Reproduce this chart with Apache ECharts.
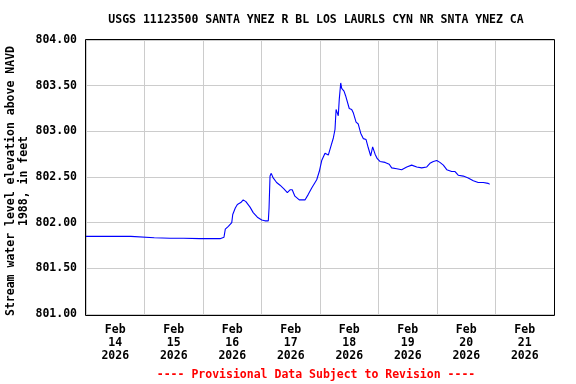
<!DOCTYPE html>
<html><head><meta charset="utf-8">
<script src="https://cdn.jsdelivr.net/npm/echarts@6/dist/echarts.min.js"></script>
<style>html,body{margin:0;padding:0;background:#fff}#c{width:576px;height:384px}</style>
</head><body><div id="c"></div>
<script>
// hours since Feb 14 2026 00:00
const hours = [0, 18.4, 18.6, 28, 34.5, 40, 46.8, 52, 55, 55.8, 56.6, 57.15, 58.4, 59.8, 60.2, 61.25, 62.1, 63.5, 64.5, 65.6, 67.3, 68.6, 70.3, 72.1, 73.4, 74.8, 75.1, 75.5, 76.0, 76.8, 78.2, 79.6, 81.2, 82.6, 83.7, 84.6, 85.7, 87.5, 89.9, 91.2, 92.6, 94.65, 95.7, 96.7, 98.05, 99.4, 99.8, 100.4, 101.5, 102.15, 102.6, 103.1, 103.5, 103.9, 104.5, 104.9, 105.85, 106.5, 107.2, 108.0, 109.0, 109.7, 110.8, 111.7, 112.7, 113.8, 114.9, 115.8, 116.8, 117.6, 118.6, 119.5, 120.6, 122.7, 124.4, 125.4, 127.5, 129.5, 131.6, 133.6, 135.7, 137.7, 139.8, 141.1, 142.5, 143.9, 145.2, 146.6, 148.0, 150.0, 151.4, 152.7, 154.8, 156.8, 158.9, 160.9, 163.0, 165.0, 165.6];
const levels = [801.85, 801.85, 801.84, 801.835, 801.83, 801.83, 801.825, 801.825, 801.825, 801.83, 801.84, 801.93, 801.96, 802.0, 802.09, 802.16, 802.2, 802.22, 802.25, 802.23, 802.17, 802.11, 802.06, 802.03, 802.02, 802.02, 802.16, 802.51, 802.54, 802.49, 802.44, 802.41, 802.37, 802.33, 802.36, 802.36, 802.29, 802.25, 802.25, 802.31, 802.38, 802.47, 802.56, 802.68, 802.76, 802.74, 802.72, 802.83, 802.93, 803.02, 803.24, 803.25, 803.17, 803.35, 803.53, 803.47, 803.44, 803.39, 803.38, 803.25, 803.24, 803.20, 803.10, 803.08, 802.98, 802.92, 802.91, 802.82, 802.73, 802.83, 802.75, 802.70, 802.67, 802.66, 802.64, 802.60, 802.59, 802.58, 802.61, 802.63, 802.61, 802.60, 802.61, 802.65, 802.67, 802.68, 802.66, 802.63, 802.58, 802.56, 802.56, 802.52, 802.51, 802.49, 802.46, 802.44, 802.44, 802.43, 802.42];
const dayLabels = ['Feb\n14\n2026','Feb\n15\n2026','Feb\n16\n2026','Feb\n17\n2026','Feb\n18\n2026','Feb\n19\n2026','Feb\n20\n2026','Feb\n21\n2026'];
const yTicks = [801, 801.5, 802, 802.5, 803, 803.5, 804];
const titleText = 'USGS 11123500 SANTA YNEZ R BL LOS LAURLS CYN NR SNTA YNEZ CA';
const yName = 'Stream water level elevation above NAVD\n1988, in feet';
const footer = '---- Provisional Data Subject to Revision ----';

const FONT = '"DejaVu Sans Mono", monospace';
const chart = echarts.init(document.getElementById('c'), null, {renderer: 'canvas'});
const data = hours.map((h, i) => [h, levels[i]]);
chart.setOption({
  animation: false,
  backgroundColor: '#fff',
  grid: {left: 86, top: 40, width: 468, height: 274, show: false},
  xAxis: [
    {type: 'value', min: 0, max: 192, interval: 24, position: 'bottom',
     axisLine: {show: false}, axisTick: {show: false}, axisLabel: {show: false},
     splitLine: {show: true, lineStyle: {color: '#cccccc', width: 1}}},
    {type: 'category', data: dayLabels, boundaryGap: true, position: 'bottom',
     axisLine: {show: false}, axisTick: {show: false}, splitLine: {show: false},
     axisLabel: {margin: 10, color: '#000', fontFamily: FONT, fontWeight: 'bold', fontSize: 11.5, lineHeight: 13, interval: 0}}
  ],
  yAxis: {type: 'value', min: yTicks[0], max: yTicks[yTicks.length - 1], interval: 0.5,
    axisLine: {show: false}, axisTick: {show: false},
    axisLabel: {margin: 9, padding: [3, 0, 0, 0], color: '#000', fontFamily: FONT, fontWeight: 'bold', fontSize: 11.5, formatter: v => v.toFixed(2)},
    splitLine: {show: true, lineStyle: {color: '#cccccc', width: 1}}},
  series: [{type: 'line', xAxisIndex: 0, data: data, showSymbol: false, symbol: 'none',
    lineStyle: {color: '#0000ff', width: 1.1}, z: 3}],
  graphic: [
    {type: 'rect', z: 100, silent: true, shape: {x: 85.5, y: 39.5, width: 469, height: 276},
     style: {fill: 'none', stroke: '#000', lineWidth: 1}},
    {type: 'text', x: 316, y: 20, z: 100, style: {text: titleText, fill: '#000', font: 'bold 11.5px ' + FONT, textAlign: 'center', textVerticalAlign: 'middle'}},
    {type: 'text', x: 316, y: 375, z: 100, style: {text: footer, fill: '#ff0000', font: 'bold 11.5px ' + FONT, textAlign: 'center', textVerticalAlign: 'middle'}},
    {type: 'text', x: 17.5, y: 181, rotation: Math.PI / 2, z: 100, style: {text: yName, fill: '#000', font: 'bold 11.5px ' + FONT, lineHeight: 13, textAlign: 'center', textVerticalAlign: 'middle'}}
  ]
});
</script></body></html>
